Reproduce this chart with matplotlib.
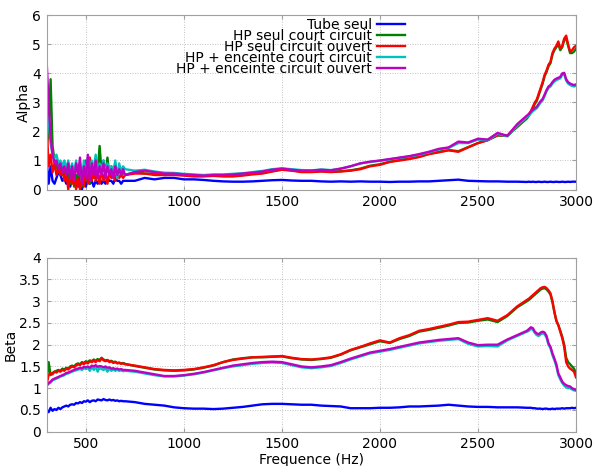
import numpy as np
import matplotlib
matplotlib.use("Agg")
from matplotlib import pyplot as plt
from matplotlib.ticker import FormatStrFormatter, MultipleLocator

# Frequency grid (Hz): fine steps in the noisy low band and near the top end
freq = np.concatenate([np.arange(300, 701, 10),
                       np.arange(750, 2751, 50),
                       np.arange(2760, 3001, 10)])

labels = ["Tube seul",
          "HP seul court circuit",
          "HP seul circuit ouvert",
          "HP + enceinte court circuit",
          "HP + enceinte circuit ouvert"]
colors = ["#0000ff", "#008000", "#ff0000", "#00c0c0", "#c000c0"]

# ---- Alpha ----
alpha_tube = [1.0, 0.2, 0.8, 0.3, 0.2, 0.4, 0.6, 0.5, 0.3, 0.4, 0.2,
              0.3, 0.1, 0.4, 0.2, 0.3, 0.1, 0.4, 0.0, 0.3, 0.1,
              0.4, 0.2, 0.3, 0.1, 0.3, 0.2, 0.4, 0.2, 0.3, 0.2,
              0.4, 0.3, 0.3, 0.2, 0.4, 0.3, 0.3, 0.2, 0.3, 0.3,
              0.3, 0.4, 0.35, 0.4, 0.4,
              0.35, 0.35, 0.33, 0.3, 0.28, 0.27, 0.27, 0.28, 0.3, 0.32,
              0.33, 0.31, 0.3, 0.3, 0.28, 0.27, 0.28, 0.27, 0.28, 0.27,
              0.27, 0.26, 0.27, 0.27, 0.28, 0.28, 0.3, 0.32, 0.34, 0.3,
              0.29, 0.28, 0.28, 0.27, 0.27, 0.26,
              0.27, 0.26, 0.27, 0.26, 0.26, 0.27, 0.26, 0.26, 0.27, 0.26,
              0.26, 0.27, 0.26, 0.26, 0.27, 0.26, 0.26, 0.27, 0.26, 0.26,
              0.27, 0.26, 0.27, 0.27, 0.27]
alpha_hp_cc = [1.5, 2.0, 3.8, 1.5, 1.0, 0.8, 0.6, 0.9, 0.5, 0.7, 0.3,
               0.6, 0.2, 0.7, 0.1, 0.5, 0.3, 0.8, 0.1, 0.6, 0.3,
               0.9, 0.2, 0.7, 0.4, 0.8, 0.6, 1.5, 0.6, 1.0, 0.5,
               1.1, 0.5, 0.8, 0.4, 0.9, 0.5, 0.7, 0.5, 0.6, 0.5,
               0.6, 0.55, 0.55, 0.5, 0.52,
               0.5, 0.47, 0.47, 0.48, 0.47, 0.47, 0.5, 0.55, 0.57, 0.63,
               0.7, 0.66, 0.62, 0.62, 0.63, 0.62, 0.63, 0.66, 0.72, 0.82,
               0.87, 0.96, 1.02, 1.07, 1.13, 1.23, 1.3, 1.36, 1.32, 1.46,
               1.6, 1.7, 1.86, 1.85, 2.15, 2.45,
               2.55, 2.65, 2.8, 2.95, 3.05, 3.25, 3.45, 3.65, 3.9, 4.05,
               4.25, 4.35, 4.65, 4.8, 4.9, 5.0, 4.8, 4.9, 5.15, 5.2,
               4.95, 4.7, 4.7, 4.75, 4.85]
alpha_hp_co = [2.2, 0.8, 1.2, 0.6, 0.9, 0.5, 0.7, 0.5, 0.8, 0.3, 0.6,
               0.0, 0.5, 0.2, 0.6, 0.0, 0.4, 0.0, 0.6, 0.1, 1.0,
               0.2, 1.1, 0.3, 0.8, 0.3, 0.6, 0.2, 0.7, 0.3, 0.6,
               0.2, 0.6, 0.4, 0.7, 0.3, 0.6, 0.4, 0.5, 0.4, 0.5,
               0.55, 0.55, 0.5, 0.5, 0.5,
               0.48, 0.45, 0.45, 0.47, 0.45, 0.45, 0.48, 0.52, 0.55, 0.62,
               0.68, 0.65, 0.6, 0.6, 0.62, 0.6, 0.62, 0.65, 0.7, 0.8,
               0.85, 0.95, 1.0, 1.05, 1.12, 1.22, 1.28, 1.35, 1.3, 1.45,
               1.6, 1.7, 1.88, 1.85, 2.2, 2.5,
               2.6, 2.7, 2.85, 3.0, 3.1, 3.3, 3.5, 3.7, 3.95, 4.1,
               4.3, 4.4, 4.7, 4.85, 4.95, 5.1, 4.85, 4.95, 5.2, 5.3,
               5.0, 4.75, 4.8, 4.9, 4.95]
alpha_enc_cc = [2.6, 2.4, 1.6, 1.2, 1.1, 1.2, 0.9, 1.0, 0.8, 1.0, 0.7,
                1.0, 0.6, 0.9, 0.5, 1.0, 0.6, 0.9, 0.3, 1.0, 0.5,
                1.1, 0.6, 1.0, 0.7, 1.2, 0.6, 0.9, 0.7, 1.0, 0.5,
                0.9, 0.7, 0.8, 0.6, 1.0, 0.4, 0.9, 0.6, 0.8, 0.7,
                0.65, 0.68, 0.62, 0.58, 0.57,
                0.54, 0.52, 0.5, 0.52, 0.52, 0.54, 0.56, 0.6, 0.64, 0.7,
                0.73, 0.7, 0.67, 0.66, 0.69, 0.67, 0.72, 0.8, 0.9, 0.95,
                0.99, 1.04, 1.09, 1.14, 1.2, 1.28, 1.38, 1.43, 1.6, 1.6,
                1.72, 1.7, 1.92, 1.83, 2.2, 2.5,
                2.55, 2.63, 2.7, 2.75, 2.8, 2.9, 3.0, 3.07, 3.22, 3.38,
                3.5, 3.55, 3.65, 3.72, 3.77, 3.8, 3.83, 3.95, 3.97, 3.75,
                3.65, 3.6, 3.57, 3.55, 3.57]
alpha_enc_co = [4.4, 3.0, 1.8, 1.2, 0.9, 1.0, 0.7, 0.9, 0.6, 0.8, 0.5,
                0.9, 0.4, 0.8, 0.3, 0.9, 0.5, 1.1, 0.2, 0.8, 0.4,
                1.2, 0.3, 0.9, 0.5, 1.0, 0.4, 0.8, 0.5, 0.9, 0.4,
                0.8, 0.5, 0.7, 0.4, 0.8, 0.5, 0.7, 0.5, 0.7, 0.5,
                0.6, 0.65, 0.6, 0.55, 0.55,
                0.52, 0.5, 0.48, 0.5, 0.5, 0.52, 0.55, 0.58, 0.62, 0.68,
                0.72, 0.68, 0.65, 0.65, 0.68, 0.66, 0.72, 0.8, 0.9, 0.96,
                1.0, 1.05, 1.1, 1.15, 1.22, 1.3, 1.4, 1.45, 1.65, 1.62,
                1.75, 1.72, 1.95, 1.85, 2.25, 2.55,
                2.6, 2.68, 2.75, 2.8, 2.85, 2.95, 3.05, 3.12, 3.27, 3.43,
                3.55, 3.6, 3.7, 3.78, 3.82, 3.85, 3.88, 4.0, 4.02, 3.8,
                3.7, 3.65, 3.62, 3.6, 3.62]

# ---- Beta ----
beta_tube = [0.5, 0.45, 0.55, 0.48, 0.52, 0.5, 0.55, 0.52, 0.56, 0.58, 0.6,
             0.58, 0.62, 0.63, 0.62, 0.66, 0.65, 0.68, 0.66, 0.7, 0.69,
             0.72, 0.68, 0.71, 0.72, 0.7, 0.74, 0.73, 0.72, 0.75, 0.73,
             0.72, 0.74, 0.72, 0.73, 0.71, 0.72, 0.7, 0.71, 0.7, 0.7,
             0.68, 0.64, 0.62, 0.6, 0.56,
             0.54, 0.53, 0.53, 0.52, 0.53, 0.55, 0.57, 0.6, 0.63, 0.64,
             0.64, 0.63, 0.62, 0.62, 0.6, 0.59, 0.58, 0.54, 0.54, 0.54,
             0.55, 0.55, 0.56, 0.58, 0.58, 0.59, 0.6, 0.62, 0.6, 0.58,
             0.57, 0.57, 0.56, 0.56, 0.56, 0.55,
             0.55, 0.55, 0.54, 0.54, 0.53, 0.53, 0.53, 0.52, 0.53, 0.53,
             0.52, 0.52, 0.53, 0.52, 0.53, 0.53, 0.53, 0.54, 0.53, 0.54,
             0.54, 0.54, 0.55, 0.54, 0.55]
beta_hp_cc = [1.15, 1.6, 1.3, 1.35, 1.38, 1.4, 1.42, 1.4, 1.45, 1.43, 1.47,
              1.45, 1.5, 1.52, 1.5, 1.55, 1.57, 1.55, 1.6, 1.58, 1.62,
              1.6, 1.64, 1.62, 1.66, 1.63, 1.67, 1.65, 1.7, 1.66, 1.64,
              1.65, 1.62, 1.63, 1.6, 1.61, 1.58, 1.59, 1.57, 1.58, 1.56,
              1.51, 1.47, 1.43, 1.41, 1.4,
              1.41, 1.43, 1.47, 1.52, 1.6, 1.66, 1.69, 1.71, 1.71, 1.72,
              1.73, 1.69, 1.66, 1.65, 1.67, 1.7, 1.77, 1.87, 1.94, 2.01,
              2.08, 2.04, 2.13, 2.2, 2.3, 2.34, 2.39, 2.44, 2.5, 2.51,
              2.55, 2.58, 2.52, 2.66, 2.86, 3.0,
              3.03, 3.07, 3.11, 3.15, 3.19, 3.23, 3.27, 3.29, 3.3, 3.27,
              3.22, 3.15, 2.98, 2.75, 2.55, 2.45, 2.32, 2.18, 2.0, 1.7,
              1.6, 1.55, 1.5, 1.45, 1.35]
beta_hp_co = [1.1, 1.3, 1.35, 1.32, 1.38, 1.36, 1.4, 1.38, 1.42, 1.4, 1.45,
              1.43, 1.47, 1.5, 1.48, 1.52, 1.55, 1.53, 1.58, 1.55, 1.6,
              1.57, 1.62, 1.6, 1.63, 1.6, 1.65, 1.62, 1.68, 1.64, 1.62,
              1.64, 1.6, 1.62, 1.58, 1.6, 1.57, 1.58, 1.56, 1.57, 1.55,
              1.52, 1.48, 1.44, 1.42, 1.41,
              1.42, 1.44, 1.48, 1.53, 1.6, 1.65, 1.68, 1.71, 1.72, 1.73,
              1.74, 1.7, 1.67, 1.66, 1.68, 1.71, 1.78, 1.88, 1.95, 2.03,
              2.1, 2.05, 2.15, 2.22, 2.32, 2.36, 2.41, 2.46, 2.52, 2.53,
              2.57, 2.61, 2.55, 2.68, 2.88, 3.03,
              3.06, 3.1, 3.14, 3.18, 3.22, 3.26, 3.3, 3.32, 3.33, 3.3,
              3.25, 3.18, 3.0, 2.75, 2.55, 2.45, 2.3, 2.15, 1.95, 1.6,
              1.5, 1.45, 1.42, 1.38, 1.25]
beta_enc_cc = [1.05, 1.1, 1.13, 1.18, 1.2, 1.22, 1.24, 1.27, 1.28, 1.3, 1.33,
               1.34, 1.36, 1.38, 1.4, 1.41, 1.43, 1.44, 1.42, 1.46, 1.44,
               1.47, 1.4, 1.49, 1.42, 1.5, 1.38, 1.47, 1.44, 1.42, 1.46,
               1.38, 1.45, 1.4, 1.43, 1.4, 1.42, 1.4, 1.41, 1.39, 1.4,
               1.38, 1.34, 1.3, 1.27, 1.27,
               1.29, 1.32, 1.36, 1.41, 1.46, 1.5, 1.53, 1.56, 1.58, 1.59,
               1.58, 1.53, 1.48, 1.46, 1.48, 1.51, 1.58, 1.66, 1.73, 1.8,
               1.84, 1.88, 1.93, 1.98, 2.03, 2.06, 2.09, 2.11, 2.13, 2.02,
               1.96, 1.97, 1.96, 2.1, 2.2, 2.3,
               2.32, 2.36, 2.35, 2.27, 2.22, 2.2, 2.24, 2.26, 2.24, 2.16,
               2.0, 1.92, 1.76, 1.64, 1.5, 1.3, 1.2, 1.12, 1.06, 1.02,
               1.0, 1.0, 0.97, 0.95, 0.94]
beta_enc_co = [1.07, 1.12, 1.15, 1.2, 1.22, 1.24, 1.26, 1.28, 1.3, 1.32, 1.35,
               1.36, 1.38, 1.4, 1.42, 1.44, 1.45, 1.47, 1.46, 1.49, 1.48,
               1.5, 1.47, 1.52, 1.5, 1.53, 1.49, 1.51, 1.5, 1.48, 1.5,
               1.47, 1.48, 1.45, 1.46, 1.44, 1.45, 1.43, 1.44, 1.42, 1.42,
               1.4, 1.36, 1.32, 1.28, 1.28,
               1.3, 1.33, 1.37, 1.42, 1.47, 1.52, 1.55, 1.58, 1.6, 1.61,
               1.6, 1.55, 1.5, 1.48, 1.5, 1.53, 1.6, 1.68, 1.75, 1.82,
               1.86, 1.9, 1.95, 2.0, 2.05, 2.08, 2.11, 2.13, 2.15, 2.05,
               1.99, 2.0, 2.0, 2.12, 2.22, 2.32,
               2.36, 2.4, 2.38, 2.3, 2.26, 2.24, 2.28, 2.3, 2.28, 2.2,
               2.03, 1.95, 1.8, 1.68, 1.55, 1.34, 1.25, 1.15, 1.1, 1.07,
               1.05, 1.04, 1.0, 0.98, 0.96]

alpha_series = [alpha_tube, alpha_hp_cc, alpha_hp_co, alpha_enc_cc, alpha_enc_co]
beta_series = [beta_tube, beta_hp_cc, beta_hp_co, beta_enc_cc, beta_enc_co]

plt.rcParams["font.family"] = "DejaVu Sans"
plt.rcParams["font.size"] = 10

fig = plt.figure(figsize=(5.96, 4.66), dpi=100)
ax1 = fig.add_axes([0.0783, 0.5933, 0.8881, 0.3738])
ax2 = fig.add_axes([0.0783, 0.0736, 0.8881, 0.3734])

for vals, lab, col in zip(alpha_series, labels, colors):
    ax1.plot(freq, vals, color=col, lw=1.7, label=lab)
for vals, lab, col in zip(beta_series, labels, colors):
    ax2.plot(freq, vals, color=col, lw=1.7)


def style(ax):
    ax.set_xlim(300, 3000)
    ax.xaxis.set_major_locator(MultipleLocator(500))
    ax.grid(True, color="#b0b0b0", lw=0.6, linestyle=(0, (1, 2)))
    for s in ax.spines.values():
        s.set_color("#a0a0a0")
    ax.tick_params(direction="in", top=True, right=True, length=3,
                   color="#a0a0a0", labelsize=10, pad=4)
    ax.yaxis.set_major_formatter(FormatStrFormatter("%g"))


style(ax1)
ax1.set_ylim(0, 6)
ax1.yaxis.set_major_locator(MultipleLocator(1))
ax1.set_ylabel("Alpha", labelpad=0)
ax1.yaxis.set_label_coords(-0.03, 0.5)

style(ax2)
ax2.set_ylim(0, 4)
ax2.yaxis.set_major_locator(MultipleLocator(0.5))
ax2.set_ylabel("Beta", labelpad=0)
ax2.yaxis.set_label_coords(-0.055, 0.5)
ax2.set_xlabel("Frequence (Hz)", labelpad=1)

ax1.legend(loc="upper right", bbox_to_anchor=(0.677, 0.985), frameon=False,
           markerfirst=False, handlelength=2.0, handletextpad=0.4,
           labelspacing=-0.22, borderpad=0, borderaxespad=0, fontsize=10)

fig.savefig("out.png", dpi=100)
